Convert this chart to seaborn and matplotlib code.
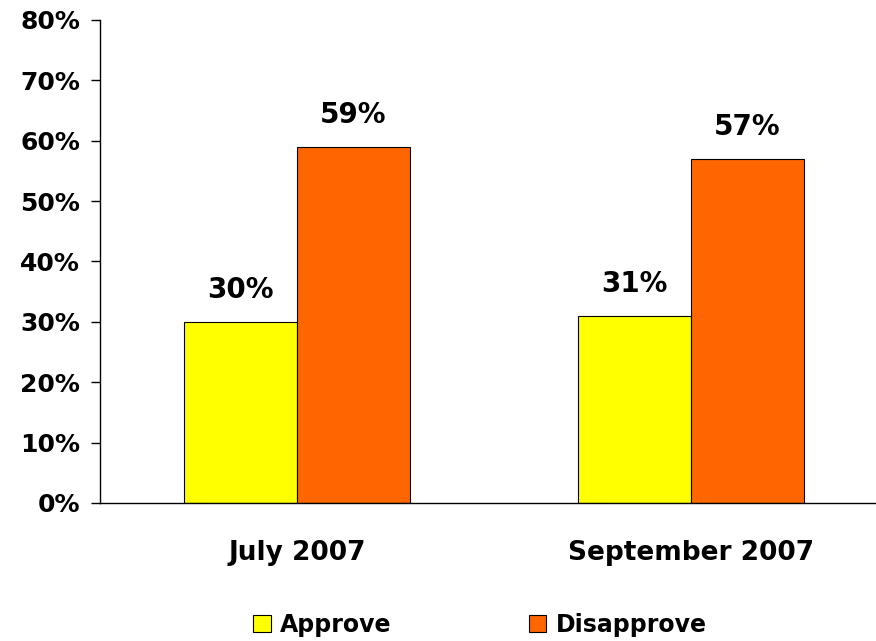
import pandas as pd
import matplotlib.pyplot as plt
import seaborn as sns
from matplotlib.patches import Patch

periods = ["July 2007", "September 2007"]
responses = ["Approve", "Disapprove"]
approve = [30, 31]
disapprove = [59, 57]
y_ticks = [0, 10, 20, 30, 40, 50, 60, 70, 80]

colors = {"Approve": "#FFFF00", "Disapprove": "#FF6600"}

df = pd.DataFrame({
    "period": periods * 2,
    "response": ["Approve"] * 2 + ["Disapprove"] * 2,
    "value": approve + disapprove,
})

sns.set_style("white")
plt.rcParams["font.family"] = ["DejaVu Sans"]
plt.rcParams["font.weight"] = "bold"
plt.rcParams["text.color"] = "black"
plt.rcParams["xtick.color"] = "black"
plt.rcParams["ytick.color"] = "black"

fig = plt.figure(figsize=(8.76, 6.41), dpi=100)
ax = fig.add_axes([0.1142, 0.2153, 1.0 - 0.1142, 0.9688 - 0.2153])

sns.barplot(
    data=df,
    x="period",
    y="value",
    hue="response",
    hue_order=responses,
    palette=colors,
    saturation=1,
    width=0.574,
    edgecolor="black",
    linewidth=0.8,
    legend=False,
    ax=ax
)

for container in ax.containers:
    ax.bar_label(
        container,
        labels=[f"{v:.0f}%" for v in container.datavalues],
        padding=13,
        fontsize=20,
        fontweight="bold",
        color="black"
    )

ax.set_yticks(y_ticks)
ax.set_yticklabels([f"{t}%" for t in y_ticks], fontsize=18, fontweight="bold")
ax.set_xticks([0, 1])
ax.set_xticklabels(periods, fontsize=19, fontweight="bold")
ax.tick_params(axis="x", which="major", length=0, pad=27)
ax.set_xticks([-0.5, 0.5, 1.5], minor=True)
ax.tick_params(axis="x", which="minor", length=5, width=1, color="black", direction="out")
ax.tick_params(axis="y", length=6.5, width=1, color="black", direction="out", left=True, pad=8)

# limits last, so the minor ticks do not widen the view
ax.set_ylim(0, 80)
ax.set_xlim(-0.5, 1.47)

ax.set_xlabel("")
ax.set_ylabel("")

for side in ["top", "right"]:
    ax.spines[side].set_visible(False)
for side in ["left", "bottom"]:
    ax.spines[side].set_color("black")
    ax.spines[side].set_linewidth(1)

handles = [
    Patch(facecolor=colors[r], edgecolor="black", linewidth=0.8, label=r)
    for r in responses
]
fig.legend(
    handles=handles,
    loc="center",
    bbox_to_anchor=(0.548, 0.025),
    ncol=2,
    frameon=False,
    handlelength=0.75,
    handleheight=0.75,
    handletextpad=0.4,
    columnspacing=5.8,
    prop={"weight": "bold", "size": 17}
)

fig.savefig("out.png", dpi=100)
